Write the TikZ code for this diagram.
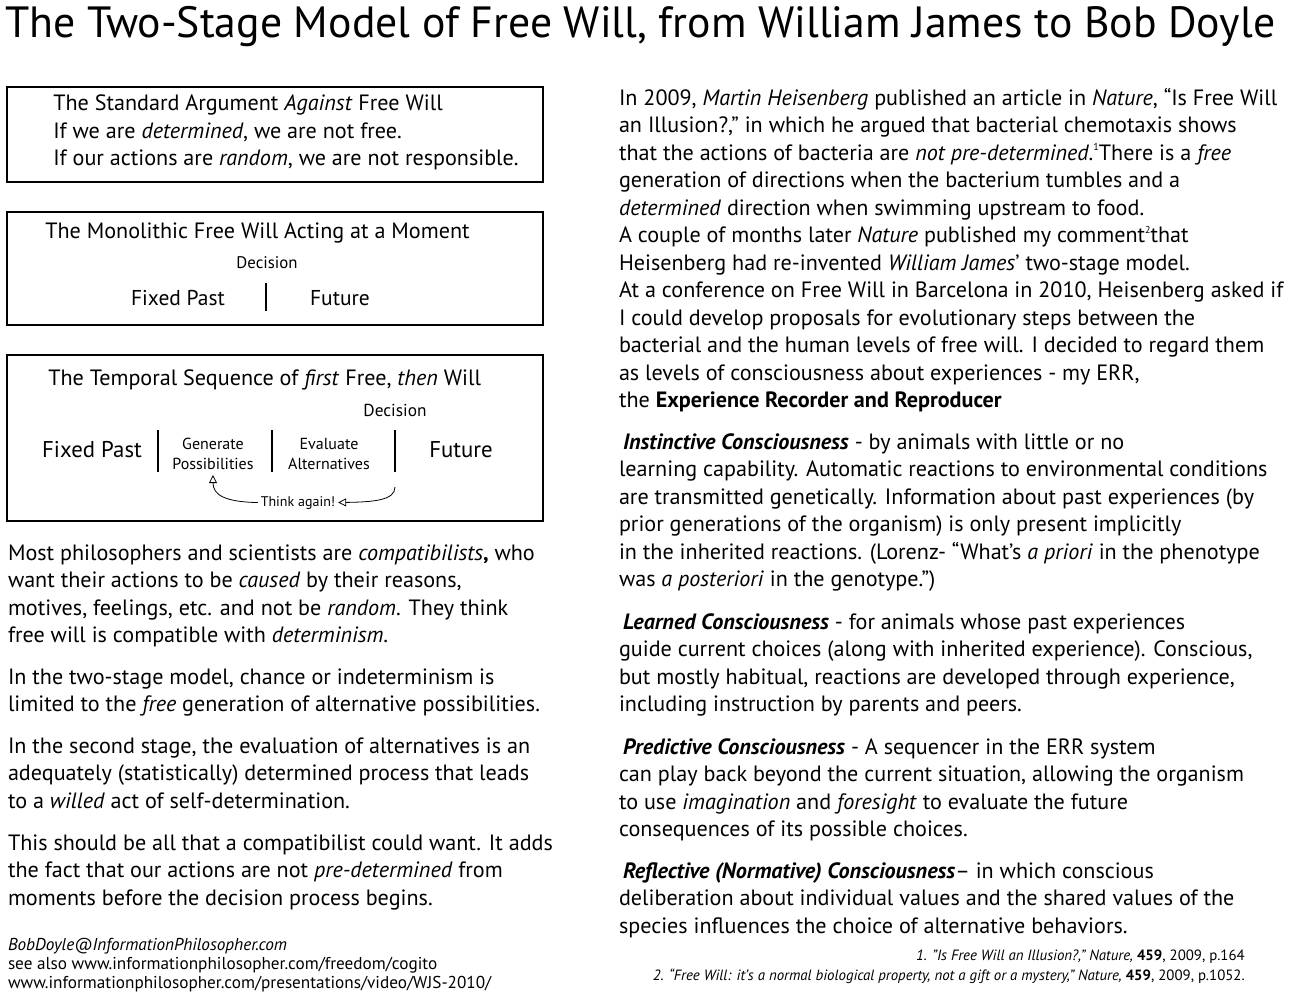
\documentclass[tikz,border=0pt]{standalone}
\usepackage{fontspec}
\setmainfont{PT Sans}
\usepackage{tikz}
\usetikzlibrary{arrows.meta,positioning}
\newcommand{\titlesize}{\fontsize{32.8}{40}\selectfont}
\newcommand{\bodysize}{\fontsize{16.6}{20.625}\selectfont}
\newcommand{\boxsize}{\fontsize{16.6}{20.25}\selectfont}
\newcommand{\smallsize}{\fontsize{12.6}{15}\selectfont}
\newcommand{\fnmark}[1]{\raisebox{0.85ex}{\fontsize{7.5}{8}\selectfont #1}}
\begin{document}
\begin{tikzpicture}[x=0.75pt,y=-0.75pt,
  frame/.style={draw,line width=1.3pt},
  para/.style={anchor=base west,align=left,inner sep=0pt,outer sep=0pt,font=\bodysize},
  boxline/.style={anchor=base west,align=left,inner sep=0pt,font=\boxsize},
  label/.style={anchor=base,align=center,inner sep=0pt},
  divider/.style={line width=1.5pt},
  thickdivider/.style={line width=2.1pt},
  thinkarrow/.style={semithick,-{Triangle[open,length=6pt,width=6pt]}}]
\useasboundingbox (0,0) rectangle (1300,999);
\node[anchor=base west,inner sep=0pt,font=\titlesize] (title) at (5,38) {The Two-Stage Model of Free Will, from William James to Bob Doyle};
\draw[frame] (7,87) rectangle (543,182);
\node[boxline] (std) at (53,165) {The Standard Argument \textit{Against} Free Will\\If we are \textit{determined}, we are not free.\\If our actions are \textit{random}, we are not responsible.};
\draw[frame] (7,212) rectangle (543,325);
\node[boxline] (mono) at (45,238) {The Monolithic Free Will Acting at a Moment};
\node[label,font=\smallsize] (dec2) at (267,268) {Decision};
\node[label,font=\fontsize{16.1}{18}\selectfont] (past2) at (178,305) {Fixed Past};
\node[label,font=\fontsize{16.1}{18}\selectfont] (fut2) at (340,305) {Future};
\draw[divider] (266,283) -- (266,311);
\draw[frame] (7,355) rectangle (543,521);
\node[boxline] (temp) at (48,385) {The Temporal Sequence of \textit{first} Free, \textit{then} Will};
\node[label,font=\fontsize{13}{15}\selectfont] (dec3) at (395,416) {Decision};
\node[label,font=\fontsize{17.1}{20}\selectfont] (past3) at (92,457) {Fixed Past};
\node[label,font=\fontsize{17.1}{20}\selectfont] (fut3) at (461,457) {Future};
\node[label,font=\fontsize{12}{15}\selectfont] (gen) at (213,469) {Generate\\Possibilities};
\node[label,font=\fontsize{12}{15}\selectfont] (eval) at (329,469) {Evaluate\\Alternatives};
\draw[thickdivider] (158,430) -- (158,472);
\draw[thickdivider] (272,430) -- (272,472);
\draw[thickdivider] (395,430) coordinate (d3top) -- (395,472) coordinate (d3bot);
\node[label,font=\fontsize{10.5}{12}\selectfont] (think) at (298,506) {Think again!};
\coordinate (genbot) at (213,475);
\draw[thinkarrow] (395,487) .. controls (395,500) and (375,502) .. ([xshift=2pt]think.east);
\draw[thinkarrow] ([xshift=-2pt]think.west) .. controls (225,502) and (213,495) .. (genbot);
\node[para] (compat) at (8,642.5) {Most philosophers and scientists are \textit{compatibilists}\textbf{,} who\\want their actions to be \textit{caused} by their reasons,\\motives, feelings, etc. and not be \textit{random}. They think\\free will is compatible with \textit{determinism}.};
\node[para] (twostage) at (8,711.5) {In the two-stage model, chance or indeterminism is\\limited to the \textit{free} generation of alternative possibilities.};
\node[para] (second) at (8,808) {In the second stage, the evaluation of alternatives is an\\adequately (statistically) determined process that leads\\to a \textit{willed} act of self-determination.};
\node[para] (want) at (8,905) {This should be all that a compatibilist could want. It adds\\the fact that our actions are not \textit{pre-determined} from\\moments before the decision process begins.};
\node[para,font=\fontsize{12.9}{14.25}\selectfont] (contact) at (8,988) {\textit{BobDoyle@InformationPhilosopher.com}\\see also www.informationphilosopher.com/freedom/cogito\\www.informationphilosopher.com/presentations/video/WJS-2010/};
\node[para] (heis) at (619,407.5) {In 2009, \textit{Martin Heisenberg} published an article in \textit{Nature}, “Is Free Will\\an Illusion?,” in which he argued that bacterial chemotaxis shows\\that the actions of bacteria are \textit{not pre-determined}.\fnmark{1}There is a \textit{free}\\generation of directions when the bacterium tumbles and a\\\textit{determined} direction when swimming upstream to food.\\A couple of months later \textit{Nature} published my comment\fnmark{2}that\\Heisenberg had re-invented \textit{William James}’ two-stage model.\\At a conference on Free Will in Barcelona in 2010, Heisenberg asked if\\I could develop proposals for evolutionary steps between the\\bacterial and the human levels of free will. I decided to regard them\\as levels of consciousness about experiences - my ERR,\\the \textbf{Experience Recorder and Reproducer}};
\node[para] (instinct) at (619,586.5) {\hspace{3pt}\textbf{\textit{Instinctive Consciousness}} - by animals with little or no\\learning capability. Automatic reactions to environmental conditions\\are transmitted genetically. Information about past experiences (by\\prior generations of the organism) is only present implicitly\\in the inherited reactions. (Lorenz- “What’s \textit{a priori} in the phenotype\\was \textit{a posteriori} in the genotype.”)};
\node[para] (learned) at (619,711.5) {\hspace{3pt}\textbf{\textit{Learned Consciousness}} - for animals whose past experiences\\guide current choices (along with inherited experience). Conscious,\\but mostly habitual, reactions are developed through experience,\\including instruction by parents and peers.};
\node[para] (predict) at (619,836.5) {\hspace{3pt}\textbf{\textit{Predictive Consciousness}} - A sequencer in the ERR system\\can play back beyond the current situation, allowing the organism\\to use \textit{imagination} and \textit{foresight} to evaluate the future\\consequences of its possible choices.};
\node[para] (reflect) at (619,933) {\hspace{3pt}\textbf{\textit{Reflective (Normative) Consciousness}}– in which conscious\\deliberation about individual values and the shared values of the\\species influences the choice of alternative behaviors.};
\node[anchor=base east,align=right,inner sep=0pt,font=\fontsize{11.15}{15}\selectfont] (foot) at (1245,980) {\textit{1. "Is Free Will an Illusion?," Nature,} \textbf{459}, 2009, p.164\\\textit{2. “Free Will: it’s a normal biological property, not a gift or a mystery,” Nature,} \textbf{459}, 2009, p.1052.};
\end{tikzpicture}
\end{document}
